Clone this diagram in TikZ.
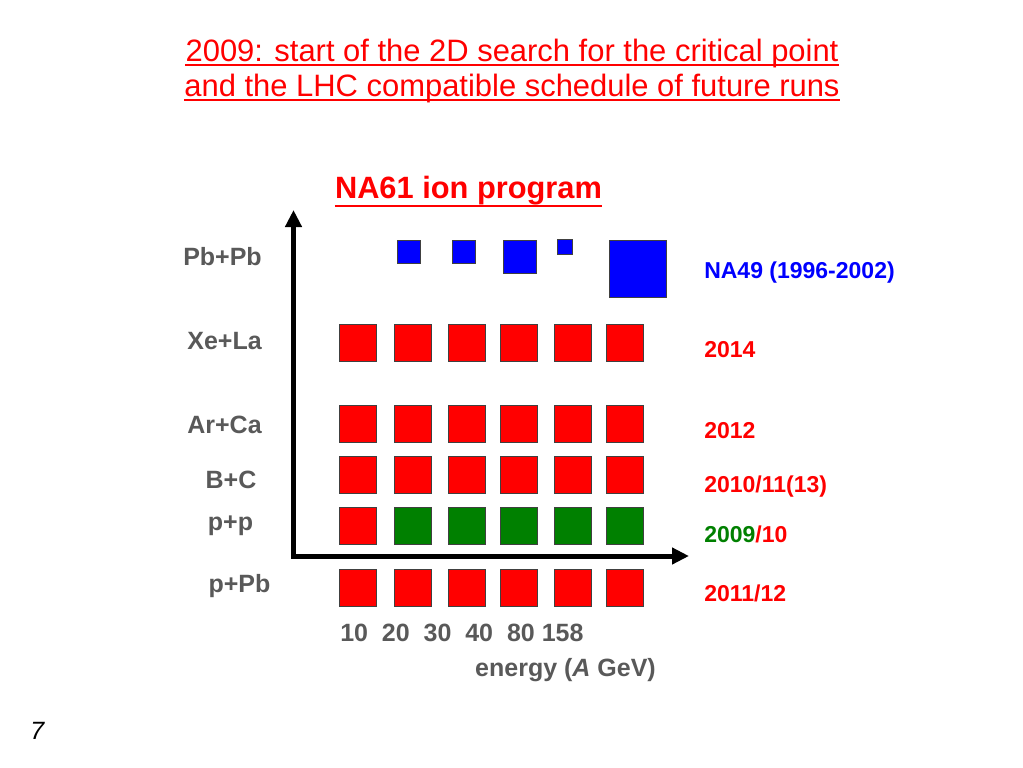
\documentclass[tikz,border=0pt]{standalone}
\usepackage{fontspec}
\setmainfont{Liberation Sans}
\usetikzlibrary{arrows.meta}
\definecolor{pptred}{RGB}{255,0,0}
\definecolor{pptgreen}{RGB}{0,128,0}
\definecolor{pptblue}{RGB}{0,0,255}
\definecolor{labgray}{RGB}{89,89,89}
\begin{document}
\begin{tikzpicture}[x=0.75pt,y=-0.75pt,
  sq/.style={draw=black!75, line width=0.4pt, inner sep=0pt, minimum size=#1},
  sq/.default=27.75pt,
  txt/.style={inner sep=0pt, anchor=base},
  title/.style={txt, text=pptred, font=\fontsize{23.2pt}{27pt}\selectfont},
  head/.style={txt, text=pptred, font=\fontsize{23.1pt}{27pt}\selectfont\bfseries},
  lab/.style={txt, text=labgray, font=\fontsize{18.75pt}{22pt}\selectfont\bfseries},
  yearlab/.style={txt, anchor=base west, font=\fontsize{17.25pt}{20pt}\selectfont\bfseries},
  axis/.style={line width=3.75pt, {Triangle[length=12.75pt,width=12pt]}-{Triangle[length=12.75pt,width=12pt]}},
  uline/.style={pptred, line width=1.5pt}
]
\useasboundingbox (0,0) rectangle (1023,767);

% title
\node[title] (t1) at (512,61) {2009: start of the 2D search for the critical point};
\node[title] (t2) at (512,96) {and the LHC compatible schedule of future runs};
\draw[uline] ([yshift=-3pt]t1.base west) -- ([yshift=-3pt]t1.base east);
\draw[uline] ([yshift=-3pt]t2.base west) -- ([yshift=-3pt]t2.base east);

\node[head] (na61) at (468.5,198) {NA61 ion program};
\draw[uline, line width=2.2pt] ([yshift=-6pt]na61.base west) -- ([yshift=-6pt]na61.base east);

% axes
\coordinate (ytip) at (293.5,210);
\coordinate (xtip) at (689,556);
\draw[axis] (ytip) |- (xtip);

% blue squares (NA49)
\node[sq=17.25pt, fill=pptblue] (b1) at (408.5,251.5) {};
\node[sq=17.25pt, fill=pptblue] (b2) at (463.5,251.5) {};
\node[sq=24.75pt, fill=pptblue] (b3) at (519.5,256.5) {};
\node[sq=10.9pt,  fill=pptblue] (b4) at (565,247) {};
\node[sq=42.75pt, fill=pptblue] (b5) at (637.5,268.5) {};

% grid of squares
\foreach \x [count=\i] in {357.5,412.5,467,518.5,573,624.5} {
  \node[sq, fill=pptred] (xe\i) at (\x,342.5) {};
  \node[sq, fill=pptred] (ar\i) at (\x,423.5) {};
  \node[sq, fill=pptred] (bc\i) at (\x,474.5) {};
  \node[sq, fill=pptred] (ppb\i) at (\x,587.5) {};
}
\node[sq, fill=pptred] (pp1) at (357.5,525.5) {};
\foreach \x [count=\i from 2] in {412.5,467,518.5,573,624.5} {
  \node[sq, fill=pptgreen] (pp\i) at (\x,525.5) {};
}

% left labels
\node[lab] (lpb) at (222.5,265) {Pb+Pb};
\node[lab] (lxe) at (224.5,349) {Xe+La};
\node[lab] (lar) at (224.5,433) {Ar+Ca};
\node[lab] (lbc) at (231,488) {B+C};
\node[lab] (lpp) at (230.5,530) {p+p};
\node[lab] (lppb) at (239.5,592) {p+Pb};

% right labels
\node[yearlab, text=pptblue] (rna49) at (704,278) {NA49 (1996-2002)};
\node[yearlab, text=pptred] (r14) at (704,357) {2014};
\node[yearlab, text=pptred] (r12) at (704,438) {2012};
\node[yearlab, text=pptred] (r10) at (704,492) {2010/11(13)};
\node[yearlab, text=pptred] (r09) at (704,542) {{\color{pptgreen}2009}/10};
\node[yearlab, text=pptred] (r11) at (704,601) {2011/12};

% energy axis labels
\node[lab, anchor=base west] (nums) at (340,641) {10~~20~~30~~40~~80 158};
\node[lab] (energy) at (565.5,676) {energy (\textit{A} GeV)};

% page number
\node[txt, anchor=base west, font=\fontsize{18.75pt}{22pt}\selectfont\itshape] (pg) at (30,739) {7};
\end{tikzpicture}
\end{document}
